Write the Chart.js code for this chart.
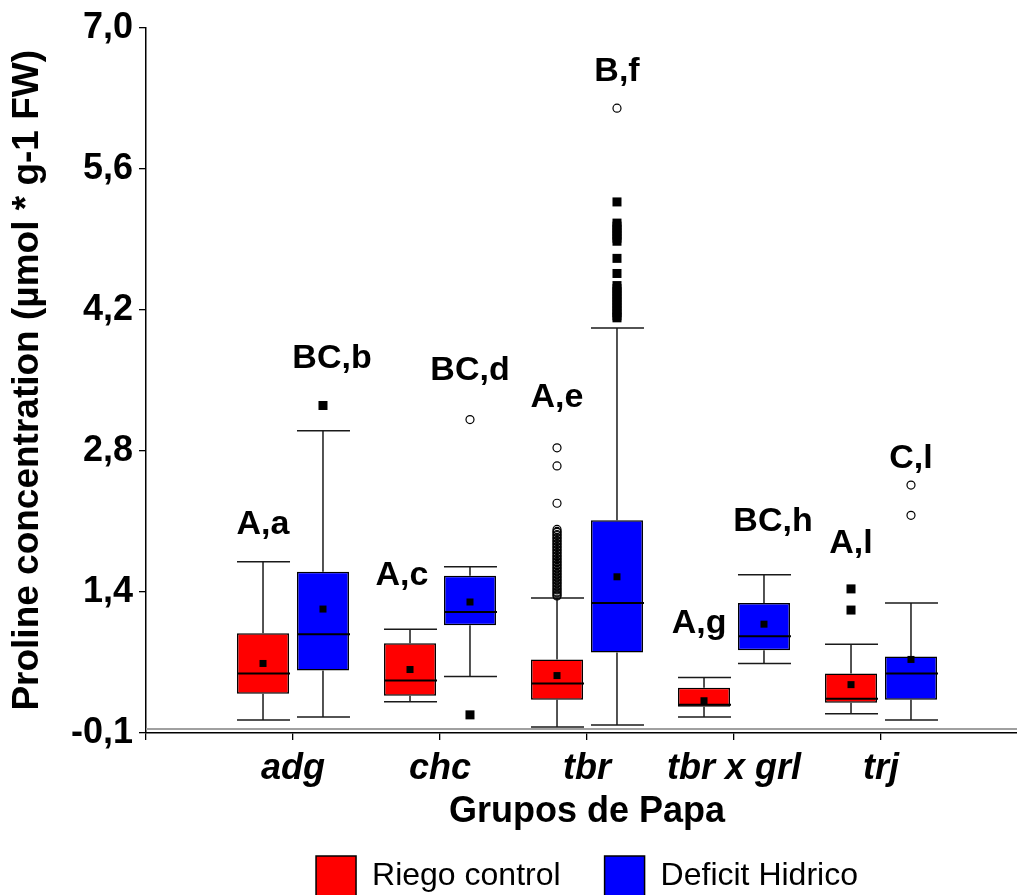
<!DOCTYPE html>
<html>
<head>
<meta charset="utf-8">
<script src="https://cdn.jsdelivr.net/npm/chart.js@4.4.1/dist/chart.umd.min.js"></script>
<style>
  html, body { margin: 0; padding: 0; background: #ffffff; overflow: hidden; }
  #wrap { width: 1174px; height: 906px; }
</style>
</head>
<body>
<div id="wrap"><canvas id="chart" width="1174" height="906"></canvas></div>
<script>
// ---- data -------------------------------------------------------------
const categories = ['adg', 'chc', 'tbr', 'tbr x grl', 'trj'];
const seriesNames = ['Riego control', 'Deficit Hidrico'];

// Riego control
const controlLow    = [0.13, 0.31, 0.06, 0.16, 0.19];
const controlQ1     = [0.39, 0.37, 0.33, 0.26, 0.30];
const controlMedian = [0.59, 0.52, 0.49, 0.28, 0.34];
const controlQ3     = [0.99, 0.89, 0.73, 0.45, 0.59];
const controlHigh   = [1.70, 1.03, 1.34, 0.55, 0.88];
const controlMean   = [0.69, 0.63, 0.57, 0.32, 0.48];
const controlOpenOutliers = [
  [],
  [],
  [2.83, 2.65, 2.28,
   2.02, 2.00, 1.99, 1.97, 1.96, 1.94, 1.93, 1.91, 1.90, 1.88, 1.87, 1.85,
   1.84, 1.82, 1.81, 1.79, 1.78, 1.76, 1.75, 1.73, 1.72, 1.70, 1.69, 1.67,
   1.66, 1.64, 1.63, 1.61, 1.60, 1.58, 1.57, 1.55, 1.54, 1.52, 1.51, 1.49,
   1.48, 1.46, 1.45, 1.43, 1.42, 1.40, 1.39, 1.37, 1.36],
  [],
  []
];
const controlFilledOutliers = [[], [], [], [], [1.43, 1.22]];

// Deficit Hidrico
const deficitLow    = [0.16, 0.56, 0.08, 0.69, 0.13];
const deficitQ1     = [0.62, 1.07, 0.80, 0.82, 0.33];
const deficitMedian = [0.98, 1.20, 1.29, 0.96, 0.59];
const deficitQ3     = [1.60, 1.56, 2.11, 1.29, 0.76];
const deficitHigh   = [3.00, 1.65, 4.02, 1.57, 1.29];
const deficitMean   = [1.23, 1.30, 1.55, 1.08, 0.73];
const deficitOpenOutliers = [[], [3.11], [6.20], [], [2.46, 2.16]];
const deficitFilledOutliers = [
  [3.25],
  [0.18],
  [5.27, 5.06, 5.03, 5.00, 4.97, 4.94, 4.91, 4.88, 4.71, 4.56,
   4.44, 4.41, 4.38, 4.35, 4.32, 4.29, 4.26, 4.23, 4.20, 4.17, 4.14, 4.12],
  [],
  []
];

// y axis ticks
const yTickValues = [0, 1.4, 2.8, 4.2, 5.6, 7.0];
const yTickLabels = ['-0,1', '1,4', '2,8', '4,2', '5,6', '7,0'];

// significance letters, one per box (control, deficit for each group)
const letterTexts  = ['A,a', 'BC,b', 'A,c', 'BC,d', 'A,e', 'B,f', 'A,g', 'BC,h', 'A,l', 'C,l'];

// ---- layout / style ---------------------------------------------------
const FONT = '"Liberation Sans", Arial, Helvetica, sans-serif';
const letterLevels = [2.07, 3.72, 1.56, 3.60, 3.33, 6.56, 1.09, 2.10, 1.88, 2.72];
const letterShiftPx = [0, 9, -8, 0, 0, 0, -5, 9, 0, 0];
const baselineValue = 0.04;

const groups = [
  { low: controlLow, q1: controlQ1, med: controlMedian, q3: controlQ3, high: controlHigh,
    mean: controlMean, open: controlOpenOutliers, filled: controlFilledOutliers },
  { low: deficitLow, q1: deficitQ1, med: deficitMedian, q3: deficitQ3, high: deficitHigh,
    mean: deficitMean, open: deficitOpenOutliers, filled: deficitFilledOutliers }
];

// empty slots at both ends keep a full category of space around the groups
const axisLabels = [''].concat(categories, [' ']);

function boxData(g) {
  return categories.map((c, i) => ({ x: c, y: [g.q1[i], g.q3[i]] }));
}

function seg(ctx, x1, y1, x2, y2) {
  ctx.beginPath();
  ctx.moveTo(x1, y1);
  ctx.lineTo(x2, y2);
  ctx.stroke();
}

// whiskers, medians, means, outliers and letters drawn on the bar boxes
const boxPlotExtras = {
  id: 'boxPlotExtras',
  beforeDatasetsDraw(chart) {
    const { ctx, chartArea } = chart;
    const y = chart.scales.y;
    const by = y.getPixelForValue(baselineValue);
    ctx.save();
    ctx.strokeStyle = '#a0a0a0';
    ctx.lineWidth = 2;
    seg(ctx, chartArea.left, by, chartArea.right, by);
    ctx.restore();
  },
  afterDatasetsDraw(chart) {
    const ctx = chart.ctx;
    const y = chart.scales.y;
    ctx.save();
    groups.forEach((g, d) => {
      const meta = chart.getDatasetMeta(d);
      meta.data.forEach((bar, i) => {
        const { x, width } = bar.getProps(['x', 'width'], true);
        const half = width / 2;
        const pLow = y.getPixelForValue(g.low[i]);
        const pQ1 = y.getPixelForValue(g.q1[i]);
        const pMed = y.getPixelForValue(g.med[i]);
        const pQ3 = y.getPixelForValue(g.q3[i]);
        const pHigh = y.getPixelForValue(g.high[i]);
        const pMean = y.getPixelForValue(g.mean[i]);

        ctx.strokeStyle = '#1a1a1a';
        ctx.lineWidth = 1.5;
        seg(ctx, x, pQ3, x, pHigh);
        seg(ctx, x, pQ1, x, pLow);
        seg(ctx, x - half, pHigh, x + half + 1, pHigh);
        seg(ctx, x - half, pLow, x + half + 1, pLow);

        ctx.strokeStyle = '#000000';
        ctx.lineWidth = 2;
        seg(ctx, x - half, pMed, x + half + 1, pMed);

        ctx.fillStyle = '#000000';
        ctx.fillRect(x - 3.5, pMean - 3.5, 7, 7);

        g.filled[i].forEach(v => {
          const p = y.getPixelForValue(v);
          ctx.fillRect(x - 4.5, p - 4.5, 9, 9);
        });

        ctx.lineWidth = 1.2;
        g.open[i].forEach(v => {
          const p = y.getPixelForValue(v);
          ctx.beginPath();
          ctx.arc(x, p, 4, 0, Math.PI * 2);
          ctx.stroke();
        });
      });
    });

    ctx.fillStyle = '#000000';
    ctx.font = 'bold 34px ' + FONT;
    ctx.textAlign = 'center';
    ctx.textBaseline = 'middle';
    letterTexts.forEach((t, k) => {
      const bar = chart.getDatasetMeta(k % 2).data[Math.floor(k / 2)];
      const { x } = bar.getProps(['x'], true);
      ctx.fillText(t, x + letterShiftPx[k], y.getPixelForValue(letterLevels[k]));
    });
    ctx.restore();
  }
};

Chart.defaults.color = '#000000';
Chart.defaults.font.family = FONT;

new Chart(document.getElementById('chart'), {
  type: 'bar',
  data: {
    labels: axisLabels,
    datasets: [
      {
        label: seriesNames[0],
        data: boxData(groups[0]),
        backgroundColor: '#ff0000',
        borderColor: '#000000',
        borderWidth: 1.5,
        borderSkipped: false,
        categoryPercentage: 0.816,
        barPercentage: 0.867
      },
      {
        label: seriesNames[1],
        data: boxData(groups[1]),
        backgroundColor: '#0000ff',
        borderColor: '#000000',
        borderWidth: 1.5,
        borderSkipped: false,
        categoryPercentage: 0.816,
        barPercentage: 0.867
      }
    ]
  },
  options: {
    responsive: false,
    devicePixelRatio: 1,
    animation: false,
    layout: { padding: { top: 23, right: 146, bottom: 0, left: 0 } },
    plugins: {
      tooltip: { enabled: false },
      legend: {
        position: 'bottom',
        fullSize: false,
        labels: {
          boxWidth: 40,
          boxHeight: 40,
          padding: 44,
          color: '#000000',
          font: { family: FONT, size: 32 }
        }
      }
    },
    scales: {
      x: {
        type: 'category',
        offset: false,
        grid: {
          offset: false,
          drawOnChartArea: false,
          drawTicks: true,
          tickLength: 7,
          color: '#000000',
          lineWidth: 1.3
        },
        border: { display: true, color: '#000000', width: 1.5 },
        ticks: {
          padding: 7,
          maxRotation: 0,
          autoSkip: false,
          font: { family: FONT, size: 36, weight: 'bold', style: 'italic' }
        },
        title: {
          display: true,
          text: 'Grupos de Papa',
          font: { family: FONT, size: 36, weight: 'bold' },
          padding: { top: 0, bottom: -22 }
        },
        afterFit(scale) { scale.height = 79; }
      },
      y: {
        type: 'linear',
        min: 0,
        max: 7.0,
        grid: {
          drawOnChartArea: false,
          drawTicks: true,
          tickLength: 7,
          color: '#000000',
          lineWidth: 1.3
        },
        border: { display: true, color: '#000000', width: 1.5 },
        afterBuildTicks(scale) {
          scale.ticks = yTickValues.map(value => ({ value }));
        },
        ticks: {
          padding: 6,
          font: { family: FONT, size: 36, weight: 'bold' },
          callback: (value, index) => yTickLabels[index]
        },
        title: {
          display: true,
          text: 'Proline concentration (µmol * g-1 FW)',
          font: { family: FONT, size: 37, weight: 'bold' },
          padding: { top: 6, bottom: 0 }
        },
        afterFit(scale) { scale.width = 146; }
      }
    }
  },
  plugins: [boxPlotExtras]
});
</script>
</body>
</html>
